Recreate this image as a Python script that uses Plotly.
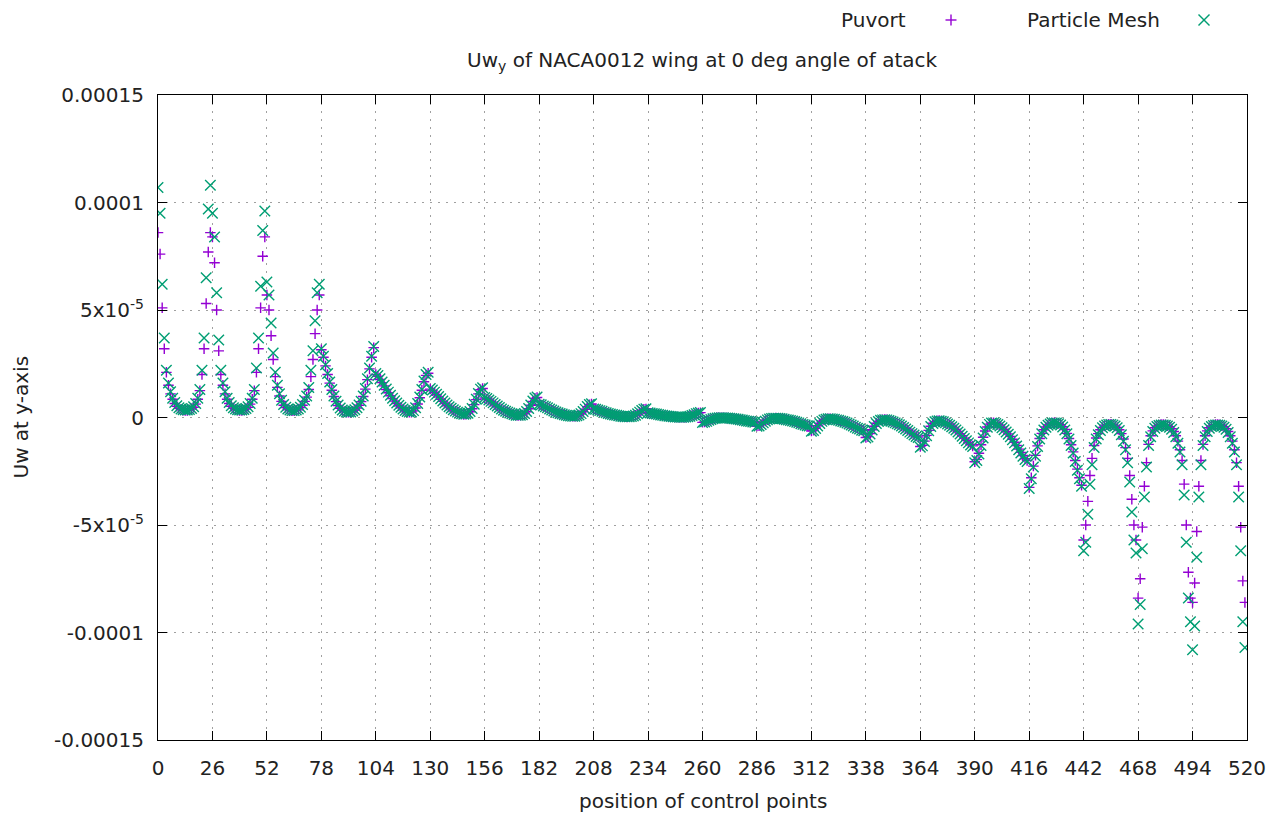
import plotly.graph_objects as go

# ---------------- data (values in units of 1e-6) ----------------
control_points = list(range(520))
x_tick_values = list(range(0, 521, 26))
y_tick_values = [-1.5e-4, -1e-4, -5e-5, 0, 5e-5, 1e-4, 1.5e-4]
y_tick_labels = ["-0.00015", "-0.0001", "-5x10<sup>-5</sup>", "0",
                 "5x10<sup>-5</sup>", "0.0001", "0.00015"]

particle_mesh_e6 = [
    107, 95, 62, 37, 22, 16, 12, 9, 7, 5.5, 4.5, 4, 3.6, 3.5, 3.5, 3.7, 4.2, 5, 6.5, 9, 13, 22, 37, 65, 97, 108,
    95, 84, 58, 36, 22, 16, 12, 9, 7, 5.5, 4.5, 4, 3.6, 3.5, 3.5, 3.7, 4.2, 5, 6.5, 9, 13, 23, 37, 61, 87, 96,
    63, 57, 44, 30, 21, 15, 11, 8, 6, 4.8, 4, 3.5, 3.2, 3.2, 3.5, 4, 4.8, 6, 8, 10, 14, 22, 31, 45, 58, 62,
    32, 28.5, 24.5, 20.5, 16.5, 13, 10, 7.6, 5.8, 4.4, 3.5, 2.9, 2.6, 2.5, 2.6, 3, 3.6, 4.5, 5.8, 7.6, 10, 13.5, 18, 23, 28.5, 33,
    20.5, 19.5, 18, 16.5, 15, 13.3, 11.8, 10.3, 9, 7.8, 6.7, 5.7, 4.8, 4, 3.3, 2.8, 2.5, 2.6, 3.2, 4.5, 6.5, 9.5, 13, 17, 20, 21,
    13.5, 12.8, 11.8, 10.8, 9.8, 8.7, 7.7, 6.7, 5.8, 5.0, 4.3, 3.6, 3.0, 2.5, 2.0, 1.7, 1.5, 1.6, 2.0, 2.8, 4.2, 6.2, 8.5, 11.2, 13.2, 13.8,
    9.3, 8.8, 8.1, 7.5, 6.8, 6.0, 5.3, 4.6, 4.0, 3.4, 2.9, 2.5, 2.1, 1.7, 1.4, 1.1, 1.0, 1.1, 1.3, 1.9, 2.8, 4.2, 5.8, 7.7, 9.1, 9.5,
    6.2, 5.9, 5.4, 5.0, 4.5, 4.0, 3.5, 3.0, 2.6, 2.2, 1.9, 1.6, 1.3, 1.1, 0.85, 0.7, 0.6, 0.63, 0.8, 1.2, 1.8, 2.8, 3.9, 5.1, 6.0, 6.4,
    4.0, 3.8, 3.5, 3.2, 2.9, 2.5, 2.2, 1.9, 1.6, 1.4, 1.2, 1.0, 0.8, 0.6, 0.46, 0.36, 0.3, 0.32, 0.44, 0.7, 1.1, 1.7, 2.5, 3.3, 3.9, 4.1,
    2.2, 2.1, 1.9, 1.7, 1.6, 1.4, 1.2, 1.0, 0.86, 0.72, 0.6, 0.47, 0.37, 0.28, 0.19, 0.14, 0.1, 0.11, 0.18, 0.33, 0.57, 0.92, 1.3, 1.8, 2.1, 2.3,
    -2.3, -2.1, -1.8, -1.3, -0.92, -0.57, -0.33, -0.18, -0.11, -0.1, -0.14, -0.19, -0.28, -0.37, -0.47, -0.6, -0.72, -0.86, -1.0, -1.2, -1.4, -1.6, -1.7, -1.9, -2.1, -2.2,
    -4.1, -3.9, -3.3, -2.5, -1.7, -1.1, -0.7, -0.44, -0.32, -0.3, -0.36, -0.46, -0.6, -0.8, -1.0, -1.2, -1.4, -1.6, -1.9, -2.2, -2.5, -2.9, -3.2, -3.5, -3.8, -4.0,
    -6.4, -6.0, -5.1, -3.9, -2.8, -1.8, -1.2, -0.8, -0.63, -0.6, -0.7, -0.85, -1.1, -1.3, -1.6, -1.9, -2.2, -2.6, -3.0, -3.5, -4.0, -4.5, -5.0, -5.4, -5.9, -6.2,
    -9.5, -9.1, -7.7, -5.8, -4.2, -2.8, -1.9, -1.3, -1.1, -1.0, -1.1, -1.4, -1.7, -2.1, -2.5, -2.9, -3.4, -4.0, -4.6, -5.3, -6.0, -6.8, -7.5, -8.1, -8.8, -9.3,
    -13.8, -13.2, -11.2, -8.5, -6.2, -4.2, -2.8, -2.0, -1.6, -1.5, -1.7, -2.0, -2.5, -3.0, -3.6, -4.3, -5.0, -5.8, -6.7, -7.7, -8.7, -9.8, -10.8, -11.8, -12.8, -13.5,
    -21, -20, -17, -13, -9.5, -6.5, -4.5, -3.2, -2.6, -2.5, -2.8, -3.3, -4, -4.8, -5.7, -6.7, -7.8, -9, -10.3, -11.8, -13.3, -15, -16.5, -18, -19.5, -20.5,
    -33, -28.5, -23, -18, -13.5, -10, -7.6, -5.8, -4.5, -3.6, -3, -2.6, -2.5, -2.6, -2.9, -3.5, -4.4, -5.8, -7.6, -10, -13, -16.5, -20.5, -24.5, -28.5, -32,
    -62, -58, -45, -31, -22, -14, -10, -8, -6, -4.8, -4, -3.5, -3.2, -3.2, -3.5, -4, -4.8, -6, -8, -11, -15, -21, -30, -44, -57, -63,
    -96, -87, -61, -37, -23, -13, -9, -6.5, -5, -4.2, -3.7, -3.5, -3.5, -3.6, -4, -4.5, -5.5, -7, -9, -12, -16, -22, -36, -58, -84, -95,
    -108, -97, -65, -37, -22, -13, -9, -6.5, -5, -4.2, -3.7, -3.5, -3.5, -3.6, -4, -4.5, -5.5, -7, -9, -12, -16, -22, -37, -62, -95, -107,
]

puvort_e6 = [
    86, 76, 51, 32, 21, 15, 11, 8.5, 6.5, 5.2, 4.3, 3.8, 3.4, 3.3, 3.3, 3.5, 4, 4.8, 6.2, 8.5, 12.5, 20, 32, 53, 77, 86,
    84, 72, 50, 31, 20, 15, 11, 8.5, 6.5, 5.2, 4.3, 3.8, 3.4, 3.3, 3.3, 3.5, 4, 4.8, 6.2, 8.5, 12.5, 21, 32, 51, 75, 84,
    57, 50, 38, 27, 19, 14, 10, 7.5, 5.7, 4.6, 3.9, 3.4, 3.1, 3.1, 3.4, 3.9, 4.6, 5.7, 7.5, 9.5, 13, 19, 27, 39, 50, 57,
    31.5, 28, 24, 20, 16, 12.7, 9.8, 7.4, 5.6, 4.3, 3.4, 2.8, 2.5, 2.4, 2.5, 2.9, 3.5, 4.4, 5.7, 7.4, 9.8, 13.2, 17.6, 22.6, 28, 32.5,
    20, 19.2, 17.7, 16.2, 14.7, 13, 11.5, 10.1, 8.8, 7.6, 6.5, 5.5, 4.6, 3.9, 3.2, 2.7, 2.4, 2.5, 3.1, 4.4, 6.3, 9.2, 12.7, 16.6, 19.6, 20.6,
    13.2, 12.5, 11.6, 10.6, 9.6, 8.5, 7.5, 6.6, 5.7, 4.9, 4.2, 3.5, 2.9, 2.4, 1.9, 1.6, 1.4, 1.5, 1.9, 2.7, 4.1, 6.0, 8.3, 11.0, 12.9, 13.5,
    9.1, 8.6, 8.0, 7.4, 6.7, 5.9, 5.2, 4.5, 3.9, 3.3, 2.8, 2.4, 2.0, 1.6, 1.3, 1.0, 0.9, 1.0, 1.2, 1.8, 2.7, 4.1, 5.7, 7.5, 8.9, 9.3,
    6.1, 5.8, 5.3, 4.9, 4.4, 3.9, 3.4, 3.0, 2.5, 2.2, 1.8, 1.5, 1.3, 1.0, 0.8, 0.65, 0.55, 0.6, 0.75, 1.15, 1.75, 2.7, 3.8, 5.0, 5.9, 6.3,
    3.9, 3.7, 3.4, 3.1, 2.8, 2.5, 2.2, 1.9, 1.6, 1.3, 1.1, 0.9, 0.75, 0.58, 0.44, 0.34, 0.28, 0.3, 0.42, 0.68, 1.05, 1.65, 2.4, 3.2, 3.8, 4.0,
    2.1, 2.0, 1.85, 1.7, 1.55, 1.35, 1.15, 0.98, 0.83, 0.7, 0.58, 0.45, 0.35, 0.26, 0.18, 0.13, 0.09, 0.1, 0.17, 0.32, 0.55, 0.9, 1.25, 1.75, 2.05, 2.25,
    -2.25, -2.05, -1.75, -1.25, -0.9, -0.55, -0.32, -0.17, -0.1, -0.09, -0.13, -0.18, -0.26, -0.35, -0.45, -0.58, -0.7, -0.83, -0.98, -1.15, -1.35, -1.55, -1.7, -1.85, -2.0, -2.1,
    -4.0, -3.8, -3.2, -2.4, -1.65, -1.05, -0.68, -0.42, -0.3, -0.28, -0.34, -0.44, -0.58, -0.75, -0.9, -1.1, -1.3, -1.6, -1.9, -2.2, -2.5, -2.8, -3.1, -3.4, -3.7, -3.9,
    -6.3, -5.9, -5.0, -3.8, -2.7, -1.75, -1.15, -0.75, -0.6, -0.55, -0.65, -0.8, -1.0, -1.3, -1.5, -1.8, -2.2, -2.5, -3.0, -3.4, -3.9, -4.4, -4.9, -5.3, -5.8, -6.1,
    -9.3, -8.9, -7.5, -5.7, -4.1, -2.7, -1.8, -1.2, -1.0, -0.9, -1.0, -1.3, -1.6, -2.0, -2.4, -2.8, -3.3, -3.9, -4.5, -5.2, -5.9, -6.7, -7.4, -8.0, -8.6, -9.1,
    -13.5, -12.9, -11.0, -8.3, -6.0, -4.1, -2.7, -1.9, -1.5, -1.4, -1.6, -1.9, -2.4, -2.9, -3.5, -4.2, -4.9, -5.7, -6.6, -7.5, -8.5, -9.6, -10.6, -11.6, -12.5, -13.2,
    -20.6, -19.6, -16.6, -12.7, -9.2, -6.3, -4.4, -3.1, -2.5, -2.4, -2.7, -3.2, -3.9, -4.6, -5.5, -6.5, -7.6, -8.8, -10.1, -11.5, -13, -14.7, -16.2, -17.7, -19.2, -20,
    -32.5, -28, -22.6, -17.6, -13.2, -9.8, -7.4, -5.7, -4.4, -3.5, -2.9, -2.5, -2.4, -2.5, -2.8, -3.4, -4.3, -5.6, -7.4, -9.8, -12.7, -16, -20, -24, -28, -31.5,
    -57, -50, -39, -27, -19, -13, -9.5, -7.5, -5.7, -4.6, -3.9, -3.4, -3.1, -3.1, -3.4, -3.9, -4.6, -5.7, -7.5, -10, -14, -19, -27, -38, -50, -57,
    -84, -75, -51, -32, -21, -12.5, -8.5, -6.2, -4.8, -4, -3.5, -3.3, -3.3, -3.4, -3.8, -4.3, -5.2, -6.5, -8.5, -11, -15, -20, -31, -50, -72, -84,
    -86, -77, -53, -32, -20, -12.5, -8.5, -6.2, -4.8, -4, -3.5, -3.3, -3.3, -3.4, -3.8, -4.3, -5.2, -6.5, -8.5, -11, -15, -21, -32, -51, -76, -86,
]

assert len(particle_mesh_e6) == 520, len(particle_mesh_e6)
assert len(puvort_e6) == 520, len(puvort_e6)

puvort = [v * 1e-6 for v in puvort_e6]
particle_mesh = [v * 1e-6 for v in particle_mesh_e6]

# ---------------- styling ----------------
PURPLE = "#9400D3"
GREEN = "#009E73"
FONT = "DejaVu Sans"
TXT = "#222222"

L, R, T, B = 158, 34, 95, 76
W, H = 1281, 816
PW, PH = W - L - R, H - T - B


def px_x(px):
    return (px - L) / PW


def px_y(py):
    return 1 - (py - T) / PH


fig = go.Figure()
fig.add_trace(go.Scatter(
    x=control_points, y=puvort, mode="markers", name="Puvort",
    marker=dict(symbol="cross-thin", size=7.5, color=PURPLE,
                line=dict(width=1.4, color=PURPLE)),
    showlegend=False, cliponaxis=True))
fig.add_trace(go.Scatter(
    x=control_points, y=particle_mesh, mode="markers", name="Particle Mesh",
    marker=dict(symbol="x-thin", size=10.5, color=GREEN,
                line=dict(width=1.4, color=GREEN)),
    showlegend=False, cliponaxis=True))

axis_common = dict(
    ticks="inside", ticklen=9, tickwidth=1, tickcolor="black",
    showline=True, linecolor="black", linewidth=1, mirror="ticks",
    showgrid=True, gridcolor="#a0a0a0", gridwidth=1, griddash="2px,6px",
    zeroline=False, tickfont=dict(family=FONT, size=20, color=TXT),
)

fig.update_xaxes(range=[0, 520], tickvals=x_tick_values,
                 ticktext=[str(v) for v in x_tick_values],
                 ticklabelstandoff=10, **axis_common)
fig.update_yaxes(range=[-1.5e-4, 1.5e-4], tickvals=y_tick_values,
                 ticktext=y_tick_labels, ticklabelstandoff=9, **axis_common)

annotations = [
    dict(text="Uw<sub>y</sub> of NACA0012 wing at 0 deg angle of atack",
         x=0.5, y=px_y(61), xanchor="center", yanchor="middle"),
    dict(text="position of control points", x=0.5, y=px_y(801),
         xanchor="center", yanchor="middle"),
    dict(text="Uw at y-axis", x=px_x(20), y=0.5, textangle=-90,
         xanchor="center", yanchor="middle"),
    dict(text="Puvort", x=px_x(908), y=px_y(20), xanchor="right", yanchor="middle"),
    dict(text="Particle Mesh", x=px_x(1162), y=px_y(20), xanchor="right", yanchor="middle"),
]
for a in annotations:
    a.update(xref="paper", yref="paper", showarrow=False,
             font=dict(family=FONT, size=20, color=TXT))


def key_line(xc, yc, dx0, dy0, dx1, dy1, color):
    return dict(type="line", xref="paper", yref="paper",
                xsizemode="pixel", ysizemode="pixel",
                xanchor=px_x(xc), yanchor=px_y(yc),
                x0=dx0, y0=dy0, x1=dx1, y1=dy1,
                line=dict(color=color, width=1.4))


shapes = [
    key_line(951, 20, -5.5, 0, 5.5, 0, PURPLE),
    key_line(951, 20, 0, -5.5, 0, 5.5, PURPLE),
    key_line(1204, 20, -5.5, -5.5, 5.5, 5.5, GREEN),
    key_line(1204, 20, -5.5, 5.5, 5.5, -5.5, GREEN),
]

fig.update_layout(
    width=W, height=H, margin=dict(l=L, r=R, t=T, b=B, autoexpand=False),
    paper_bgcolor="white", plot_bgcolor="white", showlegend=False,
    font=dict(family=FONT, size=20, color=TXT),
    annotations=annotations, shapes=shapes,
)

fig.write_html("out.html")
